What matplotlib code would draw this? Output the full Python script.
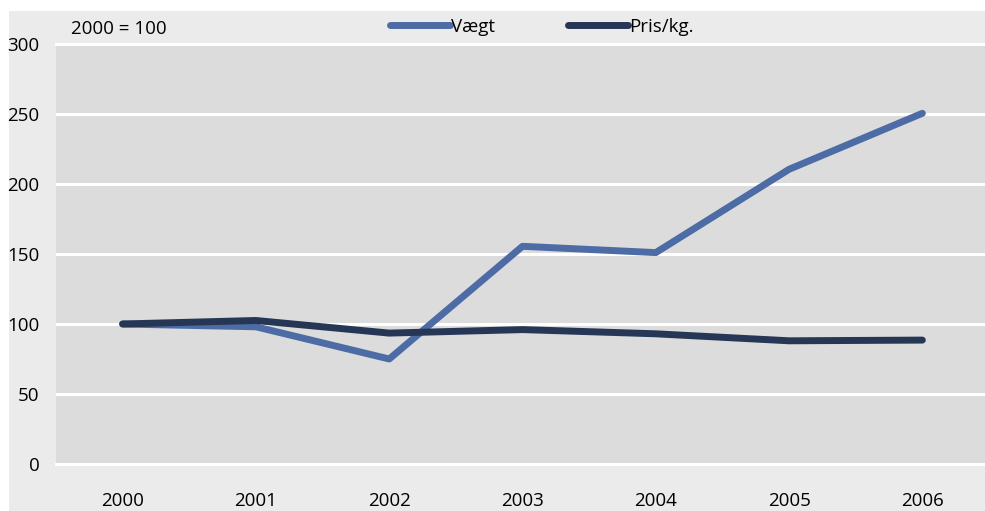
import matplotlib
matplotlib.use('Agg')
import matplotlib.pyplot as plt
from matplotlib.patches import Rectangle

plt.rcParams['font.family'] = ['Open Sans', 'DejaVu Sans']

years = ['2000', '2001', '2002', '2003', '2004', '2005', '2006']
vaegt = [100, 98, 75, 155.5, 151, 210.5, 250.5]
pris_kg = [100, 102.5, 93.5, 96, 93, 88, 88.5]
y_ticks = [0, 50, 100, 150, 200, 250, 300]

W, H = 985, 511
fig = plt.figure(figsize=(W / 100, H / 100), dpi=100)
fig.patch.set_facecolor('white')
# ydre grå baggrund
fig.patches.append(Rectangle((9 / W, 0), 1 - 9 / W, 500 / H, transform=fig.transFigure,
                             facecolor='#ebebeb', edgecolor='none', zorder=-10))

ax = fig.add_axes([56 / W, 47 / H, 933 / W, 420 / H])
ax.set_facecolor('#dcdcdc')
x = range(len(years))
ax.plot(x, vaegt, color='#4d6ca6', linewidth=5, solid_capstyle='round', label='Vægt', zorder=3)
ax.plot(x, pris_kg, color='#263755', linewidth=5, solid_capstyle='round', label='Pris/kg.', zorder=4)

ax.set_xlim(-0.5, 6.5)
ax.set_ylim(0, 300)
ax.set_yticks(y_ticks)
ax.set_xticks(list(x))
ax.set_xticklabels(years)
ax.yaxis.grid(True, color='white', linewidth=2.2)
ax.set_axisbelow(True)
for s in ax.spines.values():
    s.set_visible(False)
ax.tick_params(length=0, labelsize=13.5, colors='black')
ax.tick_params(axis='y', pad=12)
ax.tick_params(axis='x', pad=20)
ax.get_ygridlines()[-1].set_clip_on(False)
ax.get_ygridlines()[0].set_clip_on(False)

fig.text(71 / W, 1 - 29 / H, '2000 = 100', fontsize=13.5, va='center', ha='left')
fig.legend(loc='center', bbox_to_anchor=(542 / W, 1 - 27 / H), ncol=2, frameon=False,
           fontsize=13.5, handlelength=3.2, handletextpad=0.05, columnspacing=3.9)

plt.savefig('out.png', dpi=100)
